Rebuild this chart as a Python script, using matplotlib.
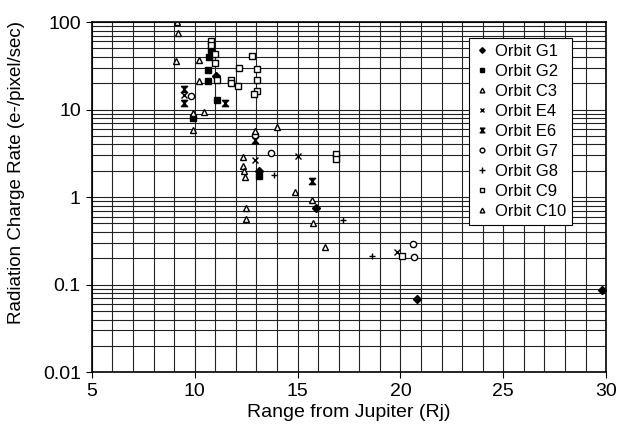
import matplotlib
matplotlib.use("Agg")
import matplotlib.pyplot as plt
from matplotlib.ticker import LogLocator, FixedLocator, MultipleLocator
import numpy as np

plt.rcParams['font.family'] = ['Liberation Sans', 'DejaVu Sans']

# range from Jupiter (Rj) / charge rate (e-/pixel/sec)
g1_x = [11.01, 13.14, 15.9, 20.79, 29.79]
g1_y = [24.5, 2.0, 0.76, 0.069, 0.088]

g2_x = [10.77, 10.7, 10.63, 10.63, 11.06, 9.93, 13.14]
g2_y = [48, 40, 28.3, 21.0, 12.8, 8.1, 1.75]

c3_x = [9.12, 9.2, 9.09, 10.22, 10.22, 9.93, 9.93, 12.36, 12.36, 12.4, 12.45,
        12.49, 12.49, 14.0, 14.87]
c3_y = [99, 74, 36, 36.8, 21.2, 9.2, 5.8, 2.9, 2.25, 2.0, 1.7,
        0.76, 0.56, 6.3, 1.15]

e4_x = [9.47, 12.93, 15.0, 19.85]
e4_y = [14.5, 2.65, 2.97, 0.237]

e6_x = [9.47, 9.47, 11.47, 12.93, 15.68]
e6_y = [17, 11.8, 12.0, 4.5, 1.52]

g7_x = [9.82, 12.93, 13.71, 20.63, 20.68]
g7_y = [14.4, 5.1, 3.2, 0.29, 0.205]

g8_x = [13.85, 17.22, 18.63]
g8_y = [1.8, 0.55, 0.21]

c9_x = [10.77, 10.77, 10.98, 10.98, 11.06, 11.74, 11.74, 12.12, 12.17, 12.8,
        13.01, 13.01, 13.01, 12.88, 16.85, 16.85, 20.06]
c9_y = [60, 54, 43, 34, 22, 22, 20, 18.7, 30, 41,
        29, 22, 16.5, 15, 3.15, 2.7, 0.21]

c10_x = [10.46, 12.93, 15.7, 15.77, 16.33]
c10_y = [9.4, 5.7, 0.92, 0.51, 0.27]

# hourglass marker for E6
bowtie = [(-1, 1), (1, 1), (-1, -1), (1, -1), (-1, 1)]

fig = plt.figure(figsize=(6.21, 4.41), dpi=100)
ax = fig.add_axes([0.148, 0.156, 0.828, 0.794])

ms = 4.5
ax.plot(g1_x, g1_y, 'D', color='black', ms=3.8, ls='none', label='Orbit G1')
ax.plot(g2_x, g2_y, 's', color='black', ms=ms, ls='none', label='Orbit G2')
ax.plot(c3_x, c3_y, '^', mfc='white', mec='black', mew=1.0, ms=ms, ls='none', label='Orbit C3')
ax.plot(e4_x, e4_y, 'x', color='black', mew=1.0, ms=ms, ls='none', label='Orbit E4')
ax.plot(e6_x, e6_y, marker=bowtie, color='black', ms=ms, ls='none', label='Orbit E6')
ax.plot(g7_x, g7_y, 'o', mfc='white', mec='black', mew=1.0, ms=ms, ls='none', label='Orbit G7')
ax.plot(g8_x, g8_y, '+', color='black', mew=1.0, ms=ms + 0.5, ls='none', label='Orbit G8')
ax.plot(c9_x, c9_y, 's', mfc='white', mec='black', mew=1.0, ms=ms, ls='none', label='Orbit C9')
ax.plot(c10_x, c10_y, '^', mfc='white', mec='black', mew=1.0, ms=ms, ls='none', label='Orbit C10')

ax.set_yscale('log')
ax.set_xlim(5, 30)
ax.set_ylim(0.01, 100)
ax.xaxis.set_major_locator(MultipleLocator(5))
ax.xaxis.set_minor_locator(MultipleLocator(1))
ax.yaxis.set_major_locator(FixedLocator([0.01, 0.1, 1, 10, 100]))
ax.yaxis.set_minor_locator(LogLocator(base=10, subs=np.arange(2, 10)))
ax.set_yticklabels(['0.01', '0.1', '1', '10', '100'])
ax.tick_params(axis='both', which='major', labelsize=14, direction='out', length=4,
               color='black', pad=4)
ax.tick_params(axis='both', which='minor', length=0)
ax.grid(True, which='both', color='#222222', lw=0.8)
ax.set_axisbelow(True)
for s in ax.spines.values():
    s.set_color('black')
    s.set_linewidth(1.2)

ax.set_xlabel('Range from Jupiter (Rj)', fontsize=14, labelpad=3)
ax.set_ylabel('Radiation Charge Rate (e-/pixel/sec)', fontsize=13.5)
ax.yaxis.set_label_coords(-0.13, 0.57)

leg = ax.legend(loc='upper right', fontsize=12, frameon=True, fancybox=False,
                edgecolor='black', framealpha=1, borderpad=0.35, labelspacing=0.3,
                handlelength=0.8, handletextpad=0.4, markerscale=0.75,
                borderaxespad=0, bbox_to_anchor=(0.934, 0.954))
leg.get_frame().set_linewidth(0.8)

fig.savefig('out.png', dpi=100)
